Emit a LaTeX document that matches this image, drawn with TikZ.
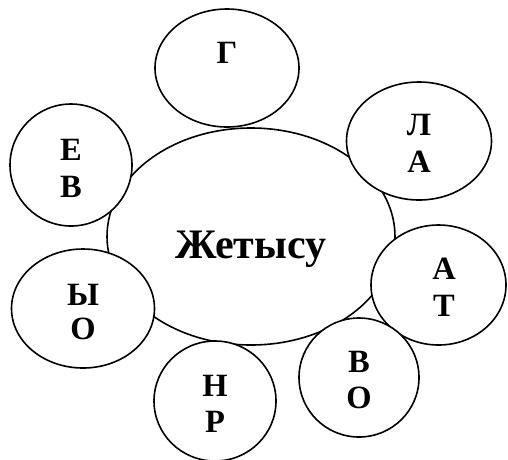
\documentclass[tikz,border=0pt]{standalone}
\usepackage{fontspec}
\setmainfont{Liberation Serif}
\usetikzlibrary{shapes.geometric}
\tikzset{
  bubble/.style={draw=black, line width=1.6pt, fill=white, ellipse, inner sep=0pt},
  letter/.style={font=\bfseries\fontsize{32.5}{32.5}\selectfont, anchor=base, inner sep=0pt},
  title/.style={font=\bfseries\fontsize{42}{42}\selectfont, anchor=base, inner sep=0pt}
}
\begin{document}
\begin{tikzpicture}[x=1pt,y=-1pt]
\useasboundingbox (0,0) rectangle (508,459);
% central ellipse
\node[bubble, minimum width=288pt, minimum height=217pt] (centre) at (251,236.5) {};
% surrounding bubbles
\node[bubble, minimum width=144pt, minimum height=118pt] (g) at (227,68) {};
\node[bubble, minimum width=145pt, minimum height=118pt] (la) at (419,141) {};
\node[bubble, minimum width=122pt, minimum height=122pt] (ev) at (71,165) {};
\node[bubble, minimum width=135pt, minimum height=120pt] (at) at (438.5,285) {};
\node[bubble, minimum width=143pt, minimum height=119pt] (yo) at (83,308.5) {};
\node[bubble, minimum width=120pt, minimum height=119pt] (vo) at (359,377.5) {};
\node[bubble, minimum width=122pt, minimum height=120pt] (nr) at (215,401) {};
% texts
\node[title] (t) at (251,258) {Жетысу};
\node[letter] (g1) at (227,63) {Г};
\node[letter] (la1) at (419,135.5) {Л};
\node[letter] (la2) at (419,172.5) {А};
\node[letter] (ev1) at (71,160) {Е};
\node[letter] (ev2) at (71,197) {В};
\node[letter] (at1) at (444,279) {А};
\node[letter] (at2) at (444,316.5) {Т};
\node[letter] (yo1) at (83,305) {Ы};
\node[letter] (yo2) at (83,339.5) {О};
\node[letter] (vo1) at (359,372) {В};
\node[letter] (vo2) at (359,408.5) {О};
\node[letter] (nr1) at (215,396) {Н};
\node[letter] (nr2) at (215,432.5) {Р};
\end{tikzpicture}
\end{document}
